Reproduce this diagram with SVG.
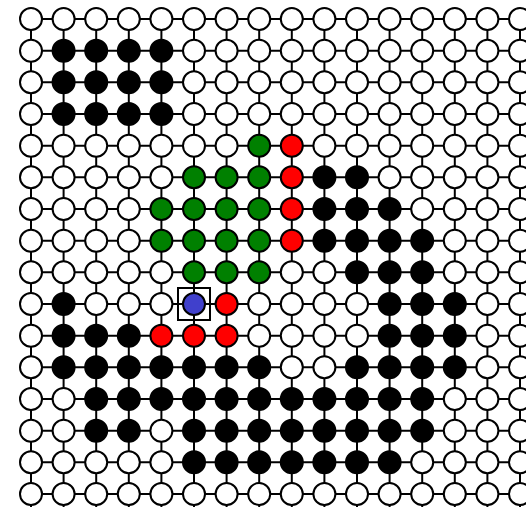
<svg xmlns="http://www.w3.org/2000/svg" width="526" height="507" viewBox="0 0 526 507">
<style>
.e line{stroke:#000;stroke-width:2}
circle{stroke:#000;stroke-width:2}
.w{fill:#fff}.b{fill:#000}.g{fill:#008000}.r{fill:#ff0000}.u{fill:#4040cc}
.sel{fill:none;stroke:#000;stroke-width:2}
</style>
<rect width="526" height="507" fill="#fff"/>
<g id="connectors" class="e">
<line x1="31" y1="19" x2="530" y2="19"/>
<line x1="31" y1="50.7" x2="530" y2="50.7"/>
<line x1="31" y1="82.3" x2="530" y2="82.3"/>
<line x1="31" y1="114" x2="530" y2="114"/>
<line x1="31" y1="145.7" x2="530" y2="145.7"/>
<line x1="31" y1="177.3" x2="530" y2="177.3"/>
<line x1="31" y1="209" x2="530" y2="209"/>
<line x1="31" y1="240.7" x2="530" y2="240.7"/>
<line x1="31" y1="272.3" x2="530" y2="272.3"/>
<line x1="31" y1="304" x2="530" y2="304"/>
<line x1="31" y1="335.7" x2="530" y2="335.7"/>
<line x1="31" y1="367.3" x2="530" y2="367.3"/>
<line x1="31" y1="399" x2="530" y2="399"/>
<line x1="31" y1="430.7" x2="530" y2="430.7"/>
<line x1="31" y1="462.3" x2="530" y2="462.3"/>
<line x1="31" y1="494" x2="530" y2="494"/>
<line x1="31" y1="19" x2="31" y2="510"/>
<line x1="63.6" y1="19" x2="63.6" y2="510"/>
<line x1="96.2" y1="19" x2="96.2" y2="510"/>
<line x1="128.8" y1="19" x2="128.8" y2="510"/>
<line x1="161.4" y1="19" x2="161.4" y2="510"/>
<line x1="194" y1="19" x2="194" y2="510"/>
<line x1="226.6" y1="19" x2="226.6" y2="510"/>
<line x1="259.2" y1="19" x2="259.2" y2="510"/>
<line x1="291.8" y1="19" x2="291.8" y2="510"/>
<line x1="324.4" y1="19" x2="324.4" y2="510"/>
<line x1="357" y1="19" x2="357" y2="510"/>
<line x1="389.6" y1="19" x2="389.6" y2="510"/>
<line x1="422.2" y1="19" x2="422.2" y2="510"/>
<line x1="454.8" y1="19" x2="454.8" y2="510"/>
<line x1="487.4" y1="19" x2="487.4" y2="510"/>
<line x1="520" y1="19" x2="520" y2="510"/>
</g>
<g id="nodes">
<g id="n0_0"><circle class="w" cx="31" cy="19" r="11"/></g>
<g id="n0_1"><circle class="w" cx="63.6" cy="19" r="11"/></g>
<g id="n0_2"><circle class="w" cx="96.2" cy="19" r="11"/></g>
<g id="n0_3"><circle class="w" cx="128.8" cy="19" r="11"/></g>
<g id="n0_4"><circle class="w" cx="161.4" cy="19" r="11"/></g>
<g id="n0_5"><circle class="w" cx="194" cy="19" r="11"/></g>
<g id="n0_6"><circle class="w" cx="226.6" cy="19" r="11"/></g>
<g id="n0_7"><circle class="w" cx="259.2" cy="19" r="11"/></g>
<g id="n0_8"><circle class="w" cx="291.8" cy="19" r="11"/></g>
<g id="n0_9"><circle class="w" cx="324.4" cy="19" r="11"/></g>
<g id="n0_10"><circle class="w" cx="357" cy="19" r="11"/></g>
<g id="n0_11"><circle class="w" cx="389.6" cy="19" r="11"/></g>
<g id="n0_12"><circle class="w" cx="422.2" cy="19" r="11"/></g>
<g id="n0_13"><circle class="w" cx="454.8" cy="19" r="11"/></g>
<g id="n0_14"><circle class="w" cx="487.4" cy="19" r="11"/></g>
<g id="n0_15"><circle class="w" cx="520" cy="19" r="11"/></g>
<g id="n1_0"><circle class="w" cx="31" cy="50.7" r="11"/></g>
<g id="n1_1"><circle class="b" cx="63.6" cy="50.7" r="11"/></g>
<g id="n1_2"><circle class="b" cx="96.2" cy="50.7" r="11"/></g>
<g id="n1_3"><circle class="b" cx="128.8" cy="50.7" r="11"/></g>
<g id="n1_4"><circle class="b" cx="161.4" cy="50.7" r="11"/></g>
<g id="n1_5"><circle class="w" cx="194" cy="50.7" r="11"/></g>
<g id="n1_6"><circle class="w" cx="226.6" cy="50.7" r="11"/></g>
<g id="n1_7"><circle class="w" cx="259.2" cy="50.7" r="11"/></g>
<g id="n1_8"><circle class="w" cx="291.8" cy="50.7" r="11"/></g>
<g id="n1_9"><circle class="w" cx="324.4" cy="50.7" r="11"/></g>
<g id="n1_10"><circle class="w" cx="357" cy="50.7" r="11"/></g>
<g id="n1_11"><circle class="w" cx="389.6" cy="50.7" r="11"/></g>
<g id="n1_12"><circle class="w" cx="422.2" cy="50.7" r="11"/></g>
<g id="n1_13"><circle class="w" cx="454.8" cy="50.7" r="11"/></g>
<g id="n1_14"><circle class="w" cx="487.4" cy="50.7" r="11"/></g>
<g id="n1_15"><circle class="w" cx="520" cy="50.7" r="11"/></g>
<g id="n2_0"><circle class="w" cx="31" cy="82.3" r="11"/></g>
<g id="n2_1"><circle class="b" cx="63.6" cy="82.3" r="11"/></g>
<g id="n2_2"><circle class="b" cx="96.2" cy="82.3" r="11"/></g>
<g id="n2_3"><circle class="b" cx="128.8" cy="82.3" r="11"/></g>
<g id="n2_4"><circle class="b" cx="161.4" cy="82.3" r="11"/></g>
<g id="n2_5"><circle class="w" cx="194" cy="82.3" r="11"/></g>
<g id="n2_6"><circle class="w" cx="226.6" cy="82.3" r="11"/></g>
<g id="n2_7"><circle class="w" cx="259.2" cy="82.3" r="11"/></g>
<g id="n2_8"><circle class="w" cx="291.8" cy="82.3" r="11"/></g>
<g id="n2_9"><circle class="w" cx="324.4" cy="82.3" r="11"/></g>
<g id="n2_10"><circle class="w" cx="357" cy="82.3" r="11"/></g>
<g id="n2_11"><circle class="w" cx="389.6" cy="82.3" r="11"/></g>
<g id="n2_12"><circle class="w" cx="422.2" cy="82.3" r="11"/></g>
<g id="n2_13"><circle class="w" cx="454.8" cy="82.3" r="11"/></g>
<g id="n2_14"><circle class="w" cx="487.4" cy="82.3" r="11"/></g>
<g id="n2_15"><circle class="w" cx="520" cy="82.3" r="11"/></g>
<g id="n3_0"><circle class="w" cx="31" cy="114" r="11"/></g>
<g id="n3_1"><circle class="b" cx="63.6" cy="114" r="11"/></g>
<g id="n3_2"><circle class="b" cx="96.2" cy="114" r="11"/></g>
<g id="n3_3"><circle class="b" cx="128.8" cy="114" r="11"/></g>
<g id="n3_4"><circle class="b" cx="161.4" cy="114" r="11"/></g>
<g id="n3_5"><circle class="w" cx="194" cy="114" r="11"/></g>
<g id="n3_6"><circle class="w" cx="226.6" cy="114" r="11"/></g>
<g id="n3_7"><circle class="w" cx="259.2" cy="114" r="11"/></g>
<g id="n3_8"><circle class="w" cx="291.8" cy="114" r="11"/></g>
<g id="n3_9"><circle class="w" cx="324.4" cy="114" r="11"/></g>
<g id="n3_10"><circle class="w" cx="357" cy="114" r="11"/></g>
<g id="n3_11"><circle class="w" cx="389.6" cy="114" r="11"/></g>
<g id="n3_12"><circle class="w" cx="422.2" cy="114" r="11"/></g>
<g id="n3_13"><circle class="w" cx="454.8" cy="114" r="11"/></g>
<g id="n3_14"><circle class="w" cx="487.4" cy="114" r="11"/></g>
<g id="n3_15"><circle class="w" cx="520" cy="114" r="11"/></g>
<g id="n4_0"><circle class="w" cx="31" cy="145.7" r="11"/></g>
<g id="n4_1"><circle class="w" cx="63.6" cy="145.7" r="11"/></g>
<g id="n4_2"><circle class="w" cx="96.2" cy="145.7" r="11"/></g>
<g id="n4_3"><circle class="w" cx="128.8" cy="145.7" r="11"/></g>
<g id="n4_4"><circle class="w" cx="161.4" cy="145.7" r="11"/></g>
<g id="n4_5"><circle class="w" cx="194" cy="145.7" r="11"/></g>
<g id="n4_6"><circle class="w" cx="226.6" cy="145.7" r="11"/></g>
<g id="n4_7"><circle class="g" cx="259.2" cy="145.7" r="11"/></g>
<g id="n4_8"><circle class="r" cx="291.8" cy="145.7" r="11"/></g>
<g id="n4_9"><circle class="w" cx="324.4" cy="145.7" r="11"/></g>
<g id="n4_10"><circle class="w" cx="357" cy="145.7" r="11"/></g>
<g id="n4_11"><circle class="w" cx="389.6" cy="145.7" r="11"/></g>
<g id="n4_12"><circle class="w" cx="422.2" cy="145.7" r="11"/></g>
<g id="n4_13"><circle class="w" cx="454.8" cy="145.7" r="11"/></g>
<g id="n4_14"><circle class="w" cx="487.4" cy="145.7" r="11"/></g>
<g id="n4_15"><circle class="w" cx="520" cy="145.7" r="11"/></g>
<g id="n5_0"><circle class="w" cx="31" cy="177.3" r="11"/></g>
<g id="n5_1"><circle class="w" cx="63.6" cy="177.3" r="11"/></g>
<g id="n5_2"><circle class="w" cx="96.2" cy="177.3" r="11"/></g>
<g id="n5_3"><circle class="w" cx="128.8" cy="177.3" r="11"/></g>
<g id="n5_4"><circle class="w" cx="161.4" cy="177.3" r="11"/></g>
<g id="n5_5"><circle class="g" cx="194" cy="177.3" r="11"/></g>
<g id="n5_6"><circle class="g" cx="226.6" cy="177.3" r="11"/></g>
<g id="n5_7"><circle class="g" cx="259.2" cy="177.3" r="11"/></g>
<g id="n5_8"><circle class="r" cx="291.8" cy="177.3" r="11"/></g>
<g id="n5_9"><circle class="b" cx="324.4" cy="177.3" r="11"/></g>
<g id="n5_10"><circle class="b" cx="357" cy="177.3" r="11"/></g>
<g id="n5_11"><circle class="w" cx="389.6" cy="177.3" r="11"/></g>
<g id="n5_12"><circle class="w" cx="422.2" cy="177.3" r="11"/></g>
<g id="n5_13"><circle class="w" cx="454.8" cy="177.3" r="11"/></g>
<g id="n5_14"><circle class="w" cx="487.4" cy="177.3" r="11"/></g>
<g id="n5_15"><circle class="w" cx="520" cy="177.3" r="11"/></g>
<g id="n6_0"><circle class="w" cx="31" cy="209" r="11"/></g>
<g id="n6_1"><circle class="w" cx="63.6" cy="209" r="11"/></g>
<g id="n6_2"><circle class="w" cx="96.2" cy="209" r="11"/></g>
<g id="n6_3"><circle class="w" cx="128.8" cy="209" r="11"/></g>
<g id="n6_4"><circle class="g" cx="161.4" cy="209" r="11"/></g>
<g id="n6_5"><circle class="g" cx="194" cy="209" r="11"/></g>
<g id="n6_6"><circle class="g" cx="226.6" cy="209" r="11"/></g>
<g id="n6_7"><circle class="g" cx="259.2" cy="209" r="11"/></g>
<g id="n6_8"><circle class="r" cx="291.8" cy="209" r="11"/></g>
<g id="n6_9"><circle class="b" cx="324.4" cy="209" r="11"/></g>
<g id="n6_10"><circle class="b" cx="357" cy="209" r="11"/></g>
<g id="n6_11"><circle class="b" cx="389.6" cy="209" r="11"/></g>
<g id="n6_12"><circle class="w" cx="422.2" cy="209" r="11"/></g>
<g id="n6_13"><circle class="w" cx="454.8" cy="209" r="11"/></g>
<g id="n6_14"><circle class="w" cx="487.4" cy="209" r="11"/></g>
<g id="n6_15"><circle class="w" cx="520" cy="209" r="11"/></g>
<g id="n7_0"><circle class="w" cx="31" cy="240.7" r="11"/></g>
<g id="n7_1"><circle class="w" cx="63.6" cy="240.7" r="11"/></g>
<g id="n7_2"><circle class="w" cx="96.2" cy="240.7" r="11"/></g>
<g id="n7_3"><circle class="w" cx="128.8" cy="240.7" r="11"/></g>
<g id="n7_4"><circle class="g" cx="161.4" cy="240.7" r="11"/></g>
<g id="n7_5"><circle class="g" cx="194" cy="240.7" r="11"/></g>
<g id="n7_6"><circle class="g" cx="226.6" cy="240.7" r="11"/></g>
<g id="n7_7"><circle class="g" cx="259.2" cy="240.7" r="11"/></g>
<g id="n7_8"><circle class="r" cx="291.8" cy="240.7" r="11"/></g>
<g id="n7_9"><circle class="b" cx="324.4" cy="240.7" r="11"/></g>
<g id="n7_10"><circle class="b" cx="357" cy="240.7" r="11"/></g>
<g id="n7_11"><circle class="b" cx="389.6" cy="240.7" r="11"/></g>
<g id="n7_12"><circle class="b" cx="422.2" cy="240.7" r="11"/></g>
<g id="n7_13"><circle class="w" cx="454.8" cy="240.7" r="11"/></g>
<g id="n7_14"><circle class="w" cx="487.4" cy="240.7" r="11"/></g>
<g id="n7_15"><circle class="w" cx="520" cy="240.7" r="11"/></g>
<g id="n8_0"><circle class="w" cx="31" cy="272.3" r="11"/></g>
<g id="n8_1"><circle class="w" cx="63.6" cy="272.3" r="11"/></g>
<g id="n8_2"><circle class="w" cx="96.2" cy="272.3" r="11"/></g>
<g id="n8_3"><circle class="w" cx="128.8" cy="272.3" r="11"/></g>
<g id="n8_4"><circle class="w" cx="161.4" cy="272.3" r="11"/></g>
<g id="n8_5"><circle class="g" cx="194" cy="272.3" r="11"/></g>
<g id="n8_6"><circle class="g" cx="226.6" cy="272.3" r="11"/></g>
<g id="n8_7"><circle class="g" cx="259.2" cy="272.3" r="11"/></g>
<g id="n8_8"><circle class="w" cx="291.8" cy="272.3" r="11"/></g>
<g id="n8_9"><circle class="w" cx="324.4" cy="272.3" r="11"/></g>
<g id="n8_10"><circle class="b" cx="357" cy="272.3" r="11"/></g>
<g id="n8_11"><circle class="b" cx="389.6" cy="272.3" r="11"/></g>
<g id="n8_12"><circle class="b" cx="422.2" cy="272.3" r="11"/></g>
<g id="n8_13"><circle class="w" cx="454.8" cy="272.3" r="11"/></g>
<g id="n8_14"><circle class="w" cx="487.4" cy="272.3" r="11"/></g>
<g id="n8_15"><circle class="w" cx="520" cy="272.3" r="11"/></g>
<g id="n9_0"><circle class="w" cx="31" cy="304" r="11"/></g>
<g id="n9_1"><circle class="b" cx="63.6" cy="304" r="11"/></g>
<g id="n9_2"><circle class="w" cx="96.2" cy="304" r="11"/></g>
<g id="n9_3"><circle class="w" cx="128.8" cy="304" r="11"/></g>
<g id="n9_4"><circle class="w" cx="161.4" cy="304" r="11"/></g>
<g id="n9_5"><circle class="u" cx="194" cy="304" r="11"/><rect class="sel" x="178" y="288" width="32" height="32"/></g>
<g id="n9_6"><circle class="r" cx="226.6" cy="304" r="11"/></g>
<g id="n9_7"><circle class="w" cx="259.2" cy="304" r="11"/></g>
<g id="n9_8"><circle class="w" cx="291.8" cy="304" r="11"/></g>
<g id="n9_9"><circle class="w" cx="324.4" cy="304" r="11"/></g>
<g id="n9_10"><circle class="w" cx="357" cy="304" r="11"/></g>
<g id="n9_11"><circle class="b" cx="389.6" cy="304" r="11"/></g>
<g id="n9_12"><circle class="b" cx="422.2" cy="304" r="11"/></g>
<g id="n9_13"><circle class="b" cx="454.8" cy="304" r="11"/></g>
<g id="n9_14"><circle class="w" cx="487.4" cy="304" r="11"/></g>
<g id="n9_15"><circle class="w" cx="520" cy="304" r="11"/></g>
<g id="n10_0"><circle class="w" cx="31" cy="335.7" r="11"/></g>
<g id="n10_1"><circle class="b" cx="63.6" cy="335.7" r="11"/></g>
<g id="n10_2"><circle class="b" cx="96.2" cy="335.7" r="11"/></g>
<g id="n10_3"><circle class="b" cx="128.8" cy="335.7" r="11"/></g>
<g id="n10_4"><circle class="r" cx="161.4" cy="335.7" r="11"/></g>
<g id="n10_5"><circle class="r" cx="194" cy="335.7" r="11"/></g>
<g id="n10_6"><circle class="r" cx="226.6" cy="335.7" r="11"/></g>
<g id="n10_7"><circle class="w" cx="259.2" cy="335.7" r="11"/></g>
<g id="n10_8"><circle class="w" cx="291.8" cy="335.7" r="11"/></g>
<g id="n10_9"><circle class="w" cx="324.4" cy="335.7" r="11"/></g>
<g id="n10_10"><circle class="w" cx="357" cy="335.7" r="11"/></g>
<g id="n10_11"><circle class="b" cx="389.6" cy="335.7" r="11"/></g>
<g id="n10_12"><circle class="b" cx="422.2" cy="335.7" r="11"/></g>
<g id="n10_13"><circle class="b" cx="454.8" cy="335.7" r="11"/></g>
<g id="n10_14"><circle class="w" cx="487.4" cy="335.7" r="11"/></g>
<g id="n10_15"><circle class="w" cx="520" cy="335.7" r="11"/></g>
<g id="n11_0"><circle class="w" cx="31" cy="367.3" r="11"/></g>
<g id="n11_1"><circle class="b" cx="63.6" cy="367.3" r="11"/></g>
<g id="n11_2"><circle class="b" cx="96.2" cy="367.3" r="11"/></g>
<g id="n11_3"><circle class="b" cx="128.8" cy="367.3" r="11"/></g>
<g id="n11_4"><circle class="b" cx="161.4" cy="367.3" r="11"/></g>
<g id="n11_5"><circle class="b" cx="194" cy="367.3" r="11"/></g>
<g id="n11_6"><circle class="b" cx="226.6" cy="367.3" r="11"/></g>
<g id="n11_7"><circle class="b" cx="259.2" cy="367.3" r="11"/></g>
<g id="n11_8"><circle class="w" cx="291.8" cy="367.3" r="11"/></g>
<g id="n11_9"><circle class="w" cx="324.4" cy="367.3" r="11"/></g>
<g id="n11_10"><circle class="b" cx="357" cy="367.3" r="11"/></g>
<g id="n11_11"><circle class="b" cx="389.6" cy="367.3" r="11"/></g>
<g id="n11_12"><circle class="b" cx="422.2" cy="367.3" r="11"/></g>
<g id="n11_13"><circle class="b" cx="454.8" cy="367.3" r="11"/></g>
<g id="n11_14"><circle class="w" cx="487.4" cy="367.3" r="11"/></g>
<g id="n11_15"><circle class="w" cx="520" cy="367.3" r="11"/></g>
<g id="n12_0"><circle class="w" cx="31" cy="399" r="11"/></g>
<g id="n12_1"><circle class="w" cx="63.6" cy="399" r="11"/></g>
<g id="n12_2"><circle class="b" cx="96.2" cy="399" r="11"/></g>
<g id="n12_3"><circle class="b" cx="128.8" cy="399" r="11"/></g>
<g id="n12_4"><circle class="b" cx="161.4" cy="399" r="11"/></g>
<g id="n12_5"><circle class="b" cx="194" cy="399" r="11"/></g>
<g id="n12_6"><circle class="b" cx="226.6" cy="399" r="11"/></g>
<g id="n12_7"><circle class="b" cx="259.2" cy="399" r="11"/></g>
<g id="n12_8"><circle class="b" cx="291.8" cy="399" r="11"/></g>
<g id="n12_9"><circle class="b" cx="324.4" cy="399" r="11"/></g>
<g id="n12_10"><circle class="b" cx="357" cy="399" r="11"/></g>
<g id="n12_11"><circle class="b" cx="389.6" cy="399" r="11"/></g>
<g id="n12_12"><circle class="b" cx="422.2" cy="399" r="11"/></g>
<g id="n12_13"><circle class="w" cx="454.8" cy="399" r="11"/></g>
<g id="n12_14"><circle class="w" cx="487.4" cy="399" r="11"/></g>
<g id="n12_15"><circle class="w" cx="520" cy="399" r="11"/></g>
<g id="n13_0"><circle class="w" cx="31" cy="430.7" r="11"/></g>
<g id="n13_1"><circle class="w" cx="63.6" cy="430.7" r="11"/></g>
<g id="n13_2"><circle class="b" cx="96.2" cy="430.7" r="11"/></g>
<g id="n13_3"><circle class="b" cx="128.8" cy="430.7" r="11"/></g>
<g id="n13_4"><circle class="w" cx="161.4" cy="430.7" r="11"/></g>
<g id="n13_5"><circle class="b" cx="194" cy="430.7" r="11"/></g>
<g id="n13_6"><circle class="b" cx="226.6" cy="430.7" r="11"/></g>
<g id="n13_7"><circle class="b" cx="259.2" cy="430.7" r="11"/></g>
<g id="n13_8"><circle class="b" cx="291.8" cy="430.7" r="11"/></g>
<g id="n13_9"><circle class="b" cx="324.4" cy="430.7" r="11"/></g>
<g id="n13_10"><circle class="b" cx="357" cy="430.7" r="11"/></g>
<g id="n13_11"><circle class="b" cx="389.6" cy="430.7" r="11"/></g>
<g id="n13_12"><circle class="b" cx="422.2" cy="430.7" r="11"/></g>
<g id="n13_13"><circle class="w" cx="454.8" cy="430.7" r="11"/></g>
<g id="n13_14"><circle class="w" cx="487.4" cy="430.7" r="11"/></g>
<g id="n13_15"><circle class="w" cx="520" cy="430.7" r="11"/></g>
<g id="n14_0"><circle class="w" cx="31" cy="462.3" r="11"/></g>
<g id="n14_1"><circle class="w" cx="63.6" cy="462.3" r="11"/></g>
<g id="n14_2"><circle class="w" cx="96.2" cy="462.3" r="11"/></g>
<g id="n14_3"><circle class="w" cx="128.8" cy="462.3" r="11"/></g>
<g id="n14_4"><circle class="w" cx="161.4" cy="462.3" r="11"/></g>
<g id="n14_5"><circle class="b" cx="194" cy="462.3" r="11"/></g>
<g id="n14_6"><circle class="b" cx="226.6" cy="462.3" r="11"/></g>
<g id="n14_7"><circle class="b" cx="259.2" cy="462.3" r="11"/></g>
<g id="n14_8"><circle class="b" cx="291.8" cy="462.3" r="11"/></g>
<g id="n14_9"><circle class="b" cx="324.4" cy="462.3" r="11"/></g>
<g id="n14_10"><circle class="b" cx="357" cy="462.3" r="11"/></g>
<g id="n14_11"><circle class="b" cx="389.6" cy="462.3" r="11"/></g>
<g id="n14_12"><circle class="w" cx="422.2" cy="462.3" r="11"/></g>
<g id="n14_13"><circle class="w" cx="454.8" cy="462.3" r="11"/></g>
<g id="n14_14"><circle class="w" cx="487.4" cy="462.3" r="11"/></g>
<g id="n14_15"><circle class="w" cx="520" cy="462.3" r="11"/></g>
<g id="n15_0"><circle class="w" cx="31" cy="494" r="11"/></g>
<g id="n15_1"><circle class="w" cx="63.6" cy="494" r="11"/></g>
<g id="n15_2"><circle class="w" cx="96.2" cy="494" r="11"/></g>
<g id="n15_3"><circle class="w" cx="128.8" cy="494" r="11"/></g>
<g id="n15_4"><circle class="w" cx="161.4" cy="494" r="11"/></g>
<g id="n15_5"><circle class="w" cx="194" cy="494" r="11"/></g>
<g id="n15_6"><circle class="w" cx="226.6" cy="494" r="11"/></g>
<g id="n15_7"><circle class="w" cx="259.2" cy="494" r="11"/></g>
<g id="n15_8"><circle class="w" cx="291.8" cy="494" r="11"/></g>
<g id="n15_9"><circle class="w" cx="324.4" cy="494" r="11"/></g>
<g id="n15_10"><circle class="w" cx="357" cy="494" r="11"/></g>
<g id="n15_11"><circle class="w" cx="389.6" cy="494" r="11"/></g>
<g id="n15_12"><circle class="w" cx="422.2" cy="494" r="11"/></g>
<g id="n15_13"><circle class="w" cx="454.8" cy="494" r="11"/></g>
<g id="n15_14"><circle class="w" cx="487.4" cy="494" r="11"/></g>
<g id="n15_15"><circle class="w" cx="520" cy="494" r="11"/></g>
</g>
</svg>
